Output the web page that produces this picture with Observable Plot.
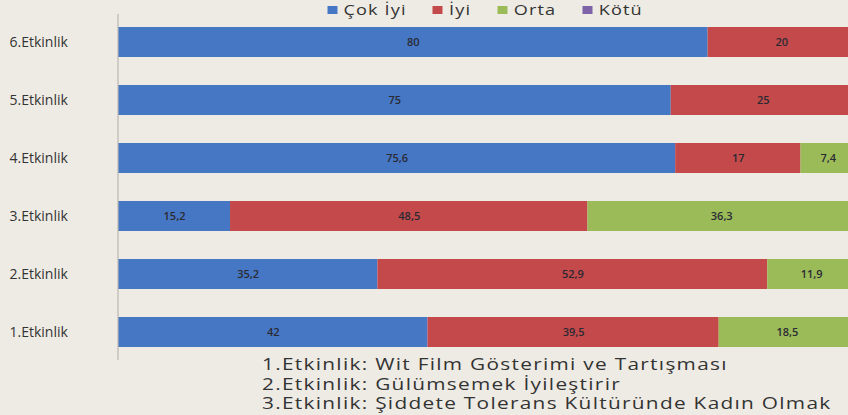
<!DOCTYPE html>
<html>
<head>
<meta charset="utf-8">
<script src="https://cdn.jsdelivr.net/npm/d3@7"></script>
<script src="https://cdn.jsdelivr.net/npm/@observablehq/plot@0.6"></script>
<style>
  html, body { margin: 0; padding: 0; background: #eeebe4; }
  #wrap { position: relative; width: 848px; height: 415px; overflow: hidden; background: #eeebe4; font-family: "Open Sans", sans-serif; }
  #legend { position: absolute; top: 0px; left: 385px; width: 200px; display: flex; justify-content: center; gap: 21px; font-size: 14.5px; line-height: 20px; color: #333; letter-spacing: 0.9px; font-weight: 500; transform-origin: 50% 0; transform: scaleX(1.25); white-space: nowrap; }
  #legend span.sw { display: inline-block; width: 8px; height: 8px; margin-right: 5px; vertical-align: 1px; }
  #chart { position: absolute; top: 0; left: 0; }
  #caption { position: absolute; top: 355px; left: 262px; font-size: 16px; line-height: 19.5px; color: #333; letter-spacing: 1px; white-space: nowrap; font-weight: 500; transform-origin: 0 0; transform: scaleX(1.3); }
</style>
</head>
<body>
<div id="wrap">
  <div id="chart"></div>
  <div id="legend"></div>
  <div id="caption"></div>
</div>
<script>
const categories = ["1.Etkinlik", "2.Etkinlik", "3.Etkinlik", "4.Etkinlik", "5.Etkinlik", "6.Etkinlik"];
const seriesNames = ["Çok İyi", "İyi", "Orta", "Kötü"];
const seriesColors = ["#4677c4", "#c4494a", "#9bbb59", "#7f63a8"];
const cokIyi = [42, 35.2, 15.2, 75.6, 75, 80];
const iyi = [39.5, 52.9, 48.5, 17, 25, 20];
const orta = [18.5, 11.9, 36.3, 7.4, 0, 0];
const kotu = [0, 0, 0, 0, 0, 0];
const captionLines = [
  "1.Etkinlik: Wit Film Gösterimi ve Tartışması",
  "2.Etkinlik: Gülümsemek İyileştirir",
  "3.Etkinlik: Şiddete Tolerans Kültüründe Kadın Olmak"
];

const seriesValues = [cokIyi, iyi, orta, kotu];
const rows = [];
categories.forEach((c, i) => {
  seriesNames.forEach((s, j) => {
    rows.push({cat: c, series: s, value: seriesValues[j][i]});
  });
});
const nonzero = rows.filter(d => d.value > 0);
const fmt = v => String(v).replace(".", ",");

const plot = Plot.plot({
  width: 848,
  height: 362,
  marginLeft: 118,
  marginRight: 0,
  marginTop: 14,
  marginBottom: 2,
  style: {background: "transparent", fontFamily: "Open Sans, sans-serif"},
  x: {domain: [0, 99.05], axis: null},
  y: {domain: categories.slice().reverse(), paddingInner: 0.486, paddingOuter: 0.2, label: null, tickSize: 0, tickPadding: 0},
  color: {domain: seriesNames, range: seriesColors},
  marks: [
    Plot.barX(nonzero, {x: "value", y: "cat", fill: "series", z: "series", clip: true, order: null}),
    Plot.textX(nonzero, Plot.stackX({x: "value", y: "cat", z: "series", order: null, text: d => fmt(d.value), fill: "#2a2a33", fontSize: 11, fontWeight: 600, style: "letter-spacing:0.5px"})),
    Plot.ruleX([0], {stroke: "#b9b7b1", strokeWidth: 1.2, dx: -0.5}),
    Plot.axisY({tickSize: 0, textAnchor: "start", dx: -100, fontSize: 14, fontWeight: 500, fill: "#333", style: "letter-spacing:1.3px"})
  ]
});
document.getElementById("chart").appendChild(plot);

const legend = document.getElementById("legend");
seriesNames.forEach((s, j) => {
  const it = document.createElement("span");
  it.className = "item";
  const sw = document.createElement("span");
  sw.className = "sw";
  sw.style.background = seriesColors[j];
  it.appendChild(sw);
  it.appendChild(document.createTextNode(s));
  legend.appendChild(it);
});

const cap = document.getElementById("caption");
captionLines.forEach(l => {
  const div = document.createElement("div");
  div.textContent = l;
  cap.appendChild(div);
});
</script>
</body>
</html>
